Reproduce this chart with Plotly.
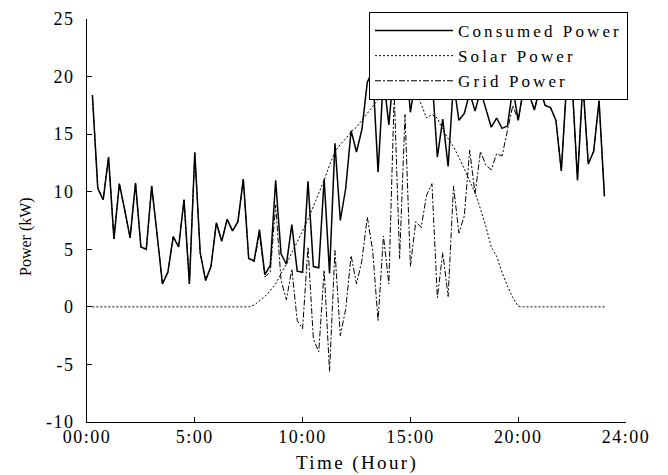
import plotly.graph_objects as go

# time axis: 15-minute steps, 00:15 .. 24:00
hours = [i * 0.25 for i in range(1, 97)]

consumed = [18.4, 10.3, 9.3, 13.0, 5.9, 10.7, 8.4, 6.0, 10.75, 5.2,
            5.0, 10.5, 6.3, 2.0, 3.0, 6.1, 5.2, 9.3, 2.0, 13.4,
            4.7, 2.3, 3.5, 7.3, 5.7, 7.6, 6.6, 7.4, 11.1, 4.2,
            4.0, 6.7, 2.8, 3.6, 11.0, 4.6, 3.7, 7.15, 3.1, 3.0,
            10.9, 3.5, 3.4, 11.1, 2.9, 14.2, 7.5, 10.3, 15.3, 13.45,
            15.4, 19.5, 20.5, 11.7, 20.0, 15.8, 21.0, 20.0, 22.0, 16.9,
            20.0, 21.0, 19.5, 20.0, 13.0, 16.3, 12.2, 19.5, 16.2, 16.8,
            18.6, 17.0, 18.8, 17.2, 15.6, 16.4, 15.5, 15.7, 19.0, 16.2,
            19.0, 18.5, 17.1, 19.0, 17.5, 17.3, 16.2, 11.8, 19.5, 19.5,
            11.0, 19.5, 12.4, 13.5, 17.9, 9.6]

solar = [0, 0, 0, 0, 0, 0, 0, 0, 0, 0,
         0, 0, 0, 0, 0, 0, 0, 0, 0, 0,
         0, 0, 0, 0, 0, 0, 0, 0, 0, 0.0,
         0.15, 0.5, 0.9, 1.4, 2.0, 2.9, 3.7, 4.7, 5.6, 6.6,
         7.6, 8.7, 9.8, 11.0, 12.3, 13.5, 14.1, 14.6, 15.2, 15.6,
         16.2, 16.8, 17.4, 18.0, 18.6, 19.2, 19.6, 19.8, 19.6, 19.2,
         18.6, 17.6, 16.4, 16.7, 16.4, 15.4, 14.6, 13.9, 13.0, 12.0,
         11.0, 9.9, 8.5, 7.0, 5.2, 4.4, 3.0, 1.8, 0.8, 0.05,
         0, 0, 0, 0, 0, 0, 0, 0, 0, 0,
         0, 0, 0, 0, 0, 0]

grid = [18.4, 10.3, 9.3, 13.0, 5.9, 10.7, 8.4, 6.0, 10.75, 5.2,
        5.0, 10.5, 6.3, 2.0, 3.0, 6.1, 5.2, 9.3, 2.0, 13.4,
        4.7, 2.3, 3.5, 7.3, 5.7, 7.6, 6.6, 7.4, 11.1, 4.2,
        3.9, 6.3, 2.6, 3.0, 8.85, 2.3, 0.6, 3.3, -1.2, -1.9,
        5.2, -2.8, -3.9, 3.2, -5.6, 4.9, -2.5, -0.2, 4.45, 2.0,
        4.0, 7.8, 4.9, -1.2, 6.15, 2.0, 18.5, 4.2, 16.7, 3.5,
        7.4, 6.9, 9.7, 10.7, 0.8, 4.7, 0.9, 10.5, 6.4, 7.9,
        13.6, 9.8, 13.5, 12.3, 11.9, 13.3, 13.1, 15.3, 17.5, 16.2,
        19.0, 18.5, 17.1, 19.0, 17.5, 17.3, 16.2, 11.8, 19.5, 19.5,
        11.0, 19.5, 12.4, 13.5, 17.9, 9.6]

x_tickvals = [0, 5, 10, 15, 20, 25]
x_ticktext = ["00:00", "5:00", "10:00", "15:00", "20:00", "24:00"]
y_tickvals = [-10, -5, 0, 5, 10, 15, 20, 25]
y_ticktext = ["-10", "-5", "0", "5", "10", "15", "20", "25"]

FONT = "Liberation Serif, Times New Roman, serif"


def spaced(s, px):
    return '<span style="letter-spacing:%spx">%s</span>' % (px, s)


fig = go.Figure()
fig.add_trace(go.Scatter(x=hours, y=consumed, mode="lines",
                         name=spaced("Consumed Power", 3.1),
                         line=dict(color="black", width=1.5)))
fig.add_trace(go.Scatter(x=hours, y=solar, mode="lines",
                         name=spaced("Solar Power", 3.1),
                         line=dict(color="black", width=1, dash="2px,2px")))
fig.add_trace(go.Scatter(x=hours, y=grid, mode="lines",
                         name=spaced("Grid Power", 3.1),
                         line=dict(color="black", width=1, dash="6px,2px,2px,2px")))

axis_common = dict(showline=True, linecolor="black", linewidth=1, mirror=False,
                   ticks="inside", ticklen=5, tickwidth=1, tickcolor="black",
                   showgrid=False, zeroline=False, automargin=False,
                   ticklabeloverflow="allow",
                   tickfont=dict(family=FONT, size=18, color="black"))

fig.update_xaxes(range=[0, 25], tickmode="array", tickvals=x_tickvals,
                 ticktext=[spaced(t, 1.5) for t in x_ticktext],
                 ticklabelstandoff=-2, **axis_common)
fig.update_yaxes(range=[-10, 25], tickmode="array", tickvals=y_tickvals,
                 ticktext=[spaced(t, 1.5) for t in y_ticktext],
                 ticklabelstandoff=8, **axis_common)

# page body adds an 8px offset; margins below are chosen so the plot area
# lands at x 87..626, y 19..422 in the 668x475 window
L, T, PW = 79, 11, 539
PH = 403
fig.add_annotation(text="Power (kW)", textangle=-90, xref="paper", yref="paper",
                   x=(26 - 87) / PW, y=(422 - 237) / PH, xanchor="center", yanchor="middle",
                   showarrow=False, font=dict(family=FONT, size=16, color="black"))
fig.add_annotation(text=spaced("Time (Hour)", 2.4), xref="paper", yref="paper",
                   x=0.5, y=(422 - 463) / PH, xanchor="center", yanchor="middle",
                   showarrow=False, font=dict(family=FONT, size=19, color="black"))

fig.update_layout(
    width=660, height=467,
    margin=dict(l=L, r=660 - L - PW, t=T, b=467 - T - PH, autoexpand=False),
    paper_bgcolor="white", plot_bgcolor="white",
    showlegend=True,
    legend=dict(x=(628 - 87) / PW, xanchor="right", y=(422 - 12) / PH, yanchor="top",
                bgcolor="white", bordercolor="black", borderwidth=1,
                font=dict(family=FONT, size=17, color="black"),
                itemwidth=78, tracegroupgap=0),
)

fig.write_html("out.html")
